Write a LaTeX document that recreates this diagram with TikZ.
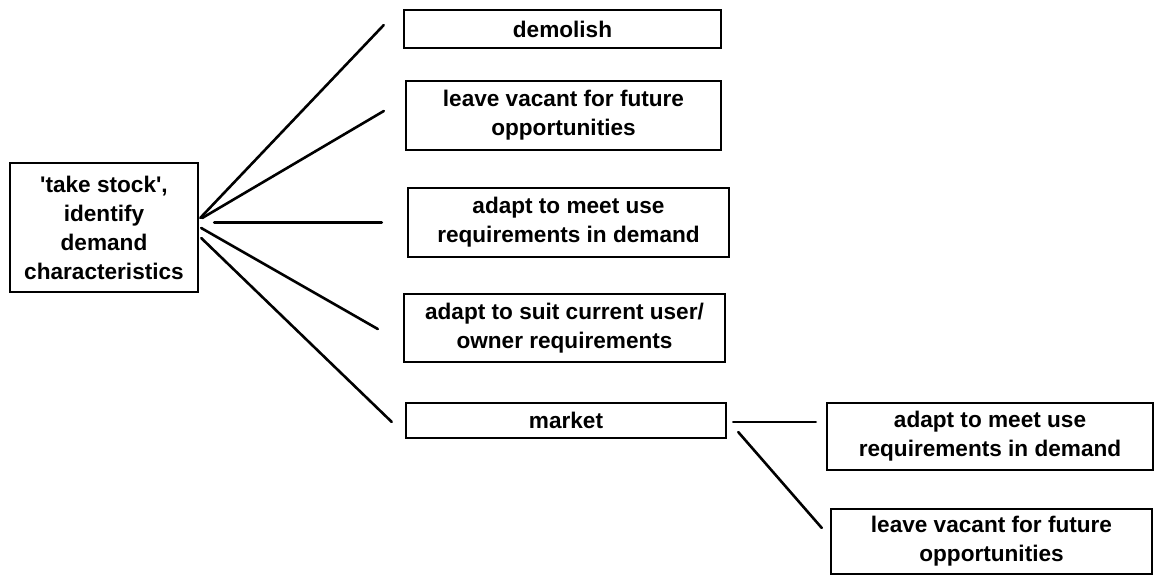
\documentclass[tikz,border=0pt]{standalone}
\usepackage{fontspec}
\setmainfont{Liberation Sans}
\usetikzlibrary{calc}
\begin{document}
\begin{tikzpicture}[x=1pt,y=-1pt,
  box/.style={draw=black, line width=2.4pt, rectangle, inner sep=0pt,
    align=center, font=\fontsize{22.6}{29}\selectfont\bfseries},
  link/.style={line width=2.6pt, line cap=round}]
\useasboundingbox (0,0) rectangle (1155,576);

% starting point
\node[box, minimum width=188pt, minimum height=129pt] (src) at (104,227.5)
  {\textquotesingle take stock\textquotesingle,\\identify\\demand\\characteristics};

% first-level options
\node[box, minimum width=317pt, minimum height=38pt] (demolish) at (562.5,29) {demolish};
\node[box, minimum width=315pt, minimum height=69pt] (vacant) at (563.5,115.5)
  {leave vacant for future\\opportunities};
\node[box, minimum width=321pt, minimum height=69pt] (meet) at (568.5,222.5)
  {adapt to meet use\\requirements in demand};
\node[box, minimum width=321pt, minimum height=68pt] (suit) at (564.5,328)
  {adapt to suit current user/\\owner requirements};
\node[box, minimum width=320pt, minimum height=35pt] (market) at (566,420.5) {market};

% options after marketing
\node[box, minimum width=326pt, minimum height=67pt] (rmeet) at (990,436.5)
  {adapt to meet use\\requirements in demand};
\node[box, minimum width=321pt, minimum height=65pt] (rvacant) at (991.5,541.5)
  {leave vacant for future\\opportunities};

% connector ends, kept clear of the boxes
\coordinate (s1) at ($(src.east)+(1,-9.5)$);
\coordinate (s2) at ($(src.east)+(3,-9.5)$);
\coordinate (s3) at ($(src.east)+(15,-5)$);
\coordinate (s4) at ($(src.east)+(2,0.5)$);
\coordinate (s5) at ($(src.east)+(2,10.5)$);
\coordinate (e1) at ($(demolish.west)+(-19,-4)$);
\coordinate (e2) at ($(vacant.west)+(-21,-4.5)$);
\coordinate (e3) at ($(meet.west)+(-25,0)$);
\coordinate (e4) at ($(suit.west)+(-25,1)$);
\coordinate (e5) at ($(market.west)+(-13,1.5)$);
\coordinate (m1) at ($(market.east)+(6,1.5)$);
\coordinate (m2) at ($(market.east)+(11,11.5)$);
\coordinate (f1) at ($(rmeet.west)+(-10,-14.5)$);
\coordinate (f2) at ($(rvacant.west)+(-8,-13.5)$);

\draw[link] (s1) -- (e1);
\draw[link] (s2) -- (e2);
\draw[link] (s3) -- (e3);
\draw[link] (s4) -- (e4);
\draw[link] (s5) -- (e5);
\draw[link] (m1) -- (f1);
\draw[link] (m2) -- (f2);
\end{tikzpicture}
\end{document}
